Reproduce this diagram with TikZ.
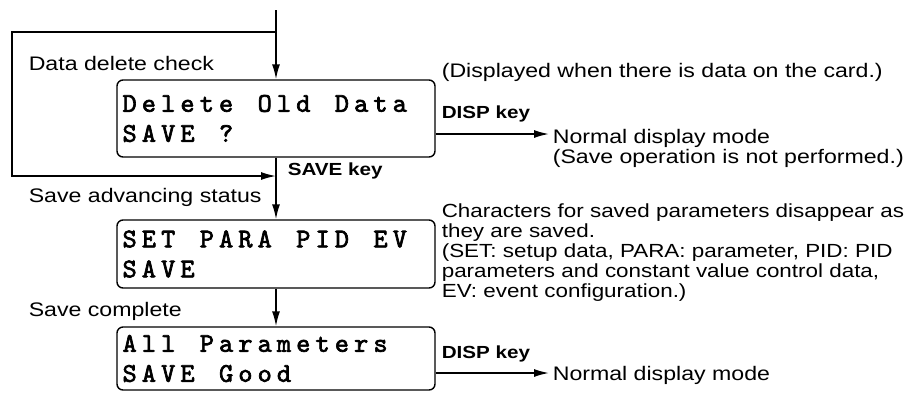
\documentclass[tikz,border=0pt]{standalone}
\usepackage{fontspec}
\setmainfont{Liberation Sans}[FakeStretch=1.18]
\newfontfamily\lcdfont{lmmono10-regular.otf}[FakeBold=2.5]
\usetikzlibrary{arrows.meta,positioning}
\newcommand\lcdrow[1]{\lcdchar#1\relax}
\def\lcdchar#1{\ifx\relax#1\else\makebox[19.3pt]{#1}\expandafter\lcdchar\fi}

\begin{document}
\begin{tikzpicture}[x=1pt,y=-1pt,>={Latex[length=15pt,width=8pt]},line width=1.6pt,
   lcd/.style={draw,line width=1.4pt,rounded corners=6pt,text width=312pt,inner xsep=3pt,inner ysep=0pt,
     align=left,font=\lcdfont\fontsize{27}{30}\selectfont},
   lbl/.style={anchor=base west,inner sep=0pt,font=\fontsize{19.6}{20}\selectfont},
   keylbl/.style={anchor=base west,inner sep=0pt,font=\bfseries\fontsize{17.5}{18}\selectfont},
   note/.style={anchor=north west,inner sep=0pt,align=left,font=\fontsize{19}{20}\selectfont}]
  \useasboundingbox (0,0) rectangle (920,392);
  \node[lcd,minimum height=77pt] (chk) at (276,118.5) {\lcdrow{Delete~Old~Data}\\\lcdrow{SAVE~?}};
  \node[lcd,minimum height=68pt] (adv) at (276,254) {\lcdrow{SET~PARA~PID~EV}\\\lcdrow{SAVE}};
  \node[lcd,minimum height=63pt] (done) at (276,358.5) {\lcdrow{All~Parameters}\\\lcdrow{SAVE~Good}};
  \node[lbl] (chklbl) at (28,70) {Data delete check};
  \node[lbl] (cardnote) at (441,77) {(Displayed when there is data on the card.)};
  \node[keylbl] (disp1) at (441,118) {DISP key};
  \node[lbl] (norm1) at (552,143) {Normal display mode};
  \node[lbl] (nosave) at (552,163) {(Save operation is not performed.)};
  \node[keylbl] (savekey) at (287,175) {SAVE key};
  \node[lbl] (advlbl) at (28,202) {Save advancing status};
  \node[note] (savenote) at (441,203) {Characters for saved parameters disappear as\\they are saved.\\(SET: setup data, PARA: parameter, PID: PID\\parameters and constant value control data,\\EV: event configuration.)};
  \node[lbl] (cmplbl) at (28,316) {Save complete};
  \node[keylbl] (disp2) at (441,358) {DISP key};
  \node[lbl] (norm2) at (552,380) {Normal display mode};
  \coordinate (top) at (276,10);
  \coordinate (fork) at (276,32);
  \coordinate (lpa) at (12,32);
  \coordinate (lpb) at (12,176);
  \coordinate (merge) at (276,176);
  \draw[->] (top) -- (chk);
  \draw[->] (fork) -- (lpa) -- (lpb) -- (merge);
  \draw[->] (chk) -- (adv);
  \draw[->] (adv) -- (done);
  \draw[->,shorten >=3pt] (chk.east |- 0,134) -- (norm1.west |- 0,134);
  \draw[->,shorten >=3pt] (done.east |- 0,373) -- (norm2.west |- 0,373);
\end{tikzpicture}
\end{document}
